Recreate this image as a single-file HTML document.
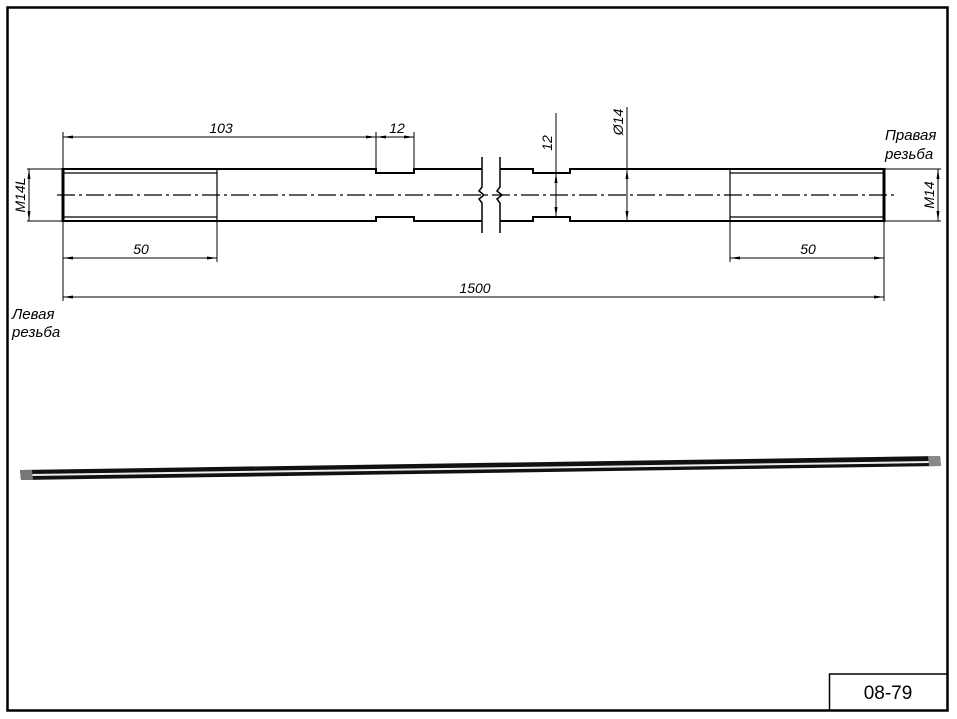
<!DOCTYPE html>
<html><head><meta charset="utf-8"><style>
html,body{margin:0;padding:0;background:#fff}
svg{display:block}
text{font-family:"Liberation Sans",sans-serif}
.d{font-style:italic;font-size:14px;font-family:"Liberation Sans Narrow","Liberation Sans",sans-serif}
</style></head><body>
<svg width="957" height="719" viewBox="0 0 957 719" xmlns="http://www.w3.org/2000/svg">
<defs><marker id="a" viewBox="0 0 10 4" refX="10" refY="2" markerWidth="10" markerHeight="4" orient="auto-start-reverse" markerUnits="userSpaceOnUse"><path d="M0,0.5 L10,2 L0,3.5z" fill="#000"/></marker></defs>
<rect x="7.5" y="7.5" width="940" height="703" fill="none" stroke="#000" stroke-width="2.5"/>
<rect x="829.5" y="674" width="118" height="36.5" fill="none" stroke="#000" stroke-width="1.5"/>
<text x="888" y="699" font-size="19" text-anchor="middle">08-79</text>
<g stroke="#000" fill="none">
<!-- shaft outline -->
<path d="M63,169 H376 V173 H414 V169 H482 M500,169 H533 V173 H570 V169 H884" stroke-width="2"/>
<path d="M63,221 H376 V217 H414 V221 H482 M500,221 H533 V217 H570 V221 H884" stroke-width="2"/>
<line x1="63" y1="168" x2="63" y2="222" stroke-width="3"/>
<line x1="884" y1="168" x2="884" y2="222" stroke-width="3"/>
<path d="M63,173 H217 M63,217 H217 M217,169 V221 M730,173 H884 M730,217 H884 M730,169 V221" stroke-width="1.2"/>
<!-- break -->
<path d="M482,157 V187 L479,191 L484,195 L479,199 L482,203 V233 M500,157 V187 L497,191 L502,195 L497,199 L500,203 V233" stroke-width="1.5"/>
<!-- centerline -->
<line x1="57" y1="195" x2="895" y2="195" stroke-width="1.2" stroke-dasharray="18,4,3,4"/>
<!-- ext lines -->
<path d="M63,132 V301 M376,132 V169 M414,132 V169 M217,221 V262 M730,221 V262 M884,221 V301 M27,169 H63 M27,221 H63 M884,169 H941 M884,221 H941 M627,107 V169 M556,113 V173" stroke-width="1"/>
<!-- dims -->
<g stroke-width="1" marker-start="url(#a)" marker-end="url(#a)">
<line x1="63" y1="137" x2="376" y2="137"/>
<line x1="376" y1="137" x2="414" y2="137"/>
<line x1="63" y1="258" x2="217" y2="258"/>
<line x1="730" y1="258" x2="884" y2="258"/>
<line x1="63" y1="297" x2="884" y2="297"/>
<line x1="29" y1="169" x2="29" y2="221"/>
<line x1="938" y1="169" x2="938" y2="221"/>
<line x1="556" y1="173" x2="556" y2="217"/>
<line x1="627" y1="169" x2="627" y2="221"/>
</g>
</g>
<text class="d" x="221" y="133" text-anchor="middle">103</text>
<text class="d" x="397" y="133" text-anchor="middle">12</text>
<text class="d" x="141" y="254" text-anchor="middle">50</text>
<text class="d" x="808" y="254" text-anchor="middle">50</text>
<text class="d" x="475" y="293" text-anchor="middle">1500</text>
<text class="d" transform="translate(25,195) rotate(-90)" text-anchor="middle">M14L</text>
<text class="d" transform="translate(934,195) rotate(-90)" text-anchor="middle">M14</text>
<text class="d" transform="translate(552,143) rotate(-90)" text-anchor="middle">12</text>
<text class="d" transform="translate(623,122) rotate(-90)" text-anchor="middle">Ø14</text>
<text x="12" y="319" font-size="15" font-style="italic">Левая</text>
<text x="12" y="337" font-size="15" font-style="italic">резьба</text>
<text x="885" y="140" font-size="15" font-style="italic">Правая</text>
<text x="885" y="159" font-size="15" font-style="italic">резьба</text>
<!-- rod -->
<polygon points="20,470 940,456 941,466 21,480" fill="#111"/>
<polygon points="30,474 930,461 930,463 30,476" fill="#eee"/>
<polygon points="20,470 32,470 33,480 21,480" fill="#777"/>
<polygon points="928,456 940,456 941,466 929,466" fill="#888"/>
</svg>
</body></html>
